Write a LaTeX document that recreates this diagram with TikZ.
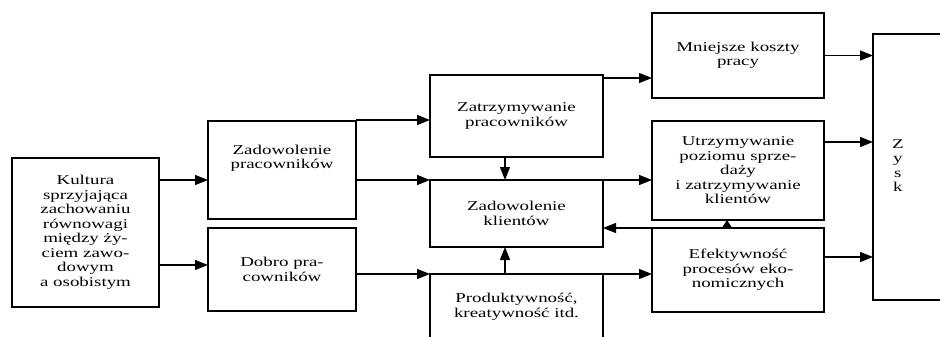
\documentclass[tikz,border=0pt]{standalone}
\usepackage{fontspec}
\setmainfont{Liberation Serif}[FakeStretch=1.4]
\usetikzlibrary{positioning,arrows.meta}

\tikzset{
  box/.style={draw, rectangle, line width=1.6pt, align=center, inner sep=2pt, outer sep=0pt,
    font=\fontsize{13.5}{14.5}\selectfont},
  conn/.style={line width=1.3pt}
}

\begin{document}
\begin{tikzpicture}[x=1pt, y=-1pt, >={Triangle[length=13pt,width=10pt]}]
\useasboundingbox (0,0) rectangle (940,337);
\clip (0,0) rectangle (940,337);

\node (kultura) [box, minimum width=147pt, minimum height=149pt] at (85.5,232.5) {Kultura\\sprzyjająca\\zachowaniu\\równowagi\\między ży-\\ciem zawo-\\dowym\\a osobistym};
\node (zadprac) [box, minimum width=148pt, minimum height=98pt, text height=24pt, text depth=27pt] at (282,170) {Zadowolenie\\pracowników};
\node (dobro) [box, minimum width=148pt, minimum height=83pt, below=9pt of zadprac] {Dobro pra-\\cowników};

\node (zatrz) [box, minimum width=173pt, minimum height=82pt] at (516.5,116) {Zatrzymywanie\\pracowników};
\node (zadklient) [box, minimum width=173pt, minimum height=67pt, below=23pt of zatrz] {Zadowolenie\\klientów};
\node (produkt) [box, minimum width=173pt, minimum height=66pt, below=27pt of zadklient] {Produktywność,\\kreatywność itd.};

\node (mniejsze) [box, minimum width=172pt, minimum height=85pt] at (738,55.5) {Mniejsze koszty\\pracy};
\node (utrzym) [box, minimum width=172pt, minimum height=99pt, below=23pt of mniejsze] {Utrzymywanie\\poziomu sprze-\\daży\\i zatrzymywanie\\klientów};
\node (efekt) [box, minimum width=172pt, minimum height=84pt, below=8pt of utrzym] {Efektywność\\procesów eko-\\nomicznych};

\node (zysk) [box, anchor=north west, minimum height=266pt, text width=120pt, inner xsep=19pt, align=left] at (873,34) {\begin{tabular}{@{}c@{}}Z\\y\\s\\k\end{tabular}};

% rows and columns of the connectors
\coordinate (y1) at (0,78);
\coordinate (y2) at (0,120);
\coordinate (y3) at (0,180);
\coordinate (y4) at (0,265);
\coordinate (y5) at (0,274);
\coordinate (y6) at (0,142);
\coordinate (y7) at (0,257);
\coordinate (x1) at (505,0);
\coordinate (x2) at (727,0);

% Arrows
\draw[conn, ->] (kultura.east |- y3) -- (zadprac.west |- y3);
\draw[conn, ->] (kultura.east |- y4) -- (dobro.west |- y4);
\draw[conn, ->] (zadprac.east |- y2) -- (zatrz.west |- y2);
\draw[conn, ->] (zadprac.east |- y3) -- (zadklient.north west);
\draw[conn, ->] (zadklient.north east) -- (utrzym.west |- y3);
\draw[conn, ->] (dobro.east |- y5) -- (produkt.north west);
\draw[conn, ->] (produkt.north east) -- (efekt.west |- y5);
\draw[conn, ->] (zatrz.south -| x1) -- (zadklient.north -| x1);
\draw[conn, ->] (produkt.north -| x1) -- (zadklient.south -| x1);
\draw[conn, ->] (zatrz.east |- y1) -- (mniejsze.west |- y1);
\draw[conn, ->] (efekt.north -| x2) -- (zadklient.east |- efekt.north);
\draw[conn, -{Triangle[length=8pt,width=10pt]}] (efekt.north -| x2) -- (utrzym.south -| x2);
\draw[conn, ->] (mniejsze.east) -- (zysk.west |- mniejsze.east);
\draw[conn, ->] (utrzym.east |- y6) -- (zysk.west |- y6);
\draw[conn, ->] (efekt.east |- y7) -- (zysk.west |- y7);
\end{tikzpicture}
\end{document}
